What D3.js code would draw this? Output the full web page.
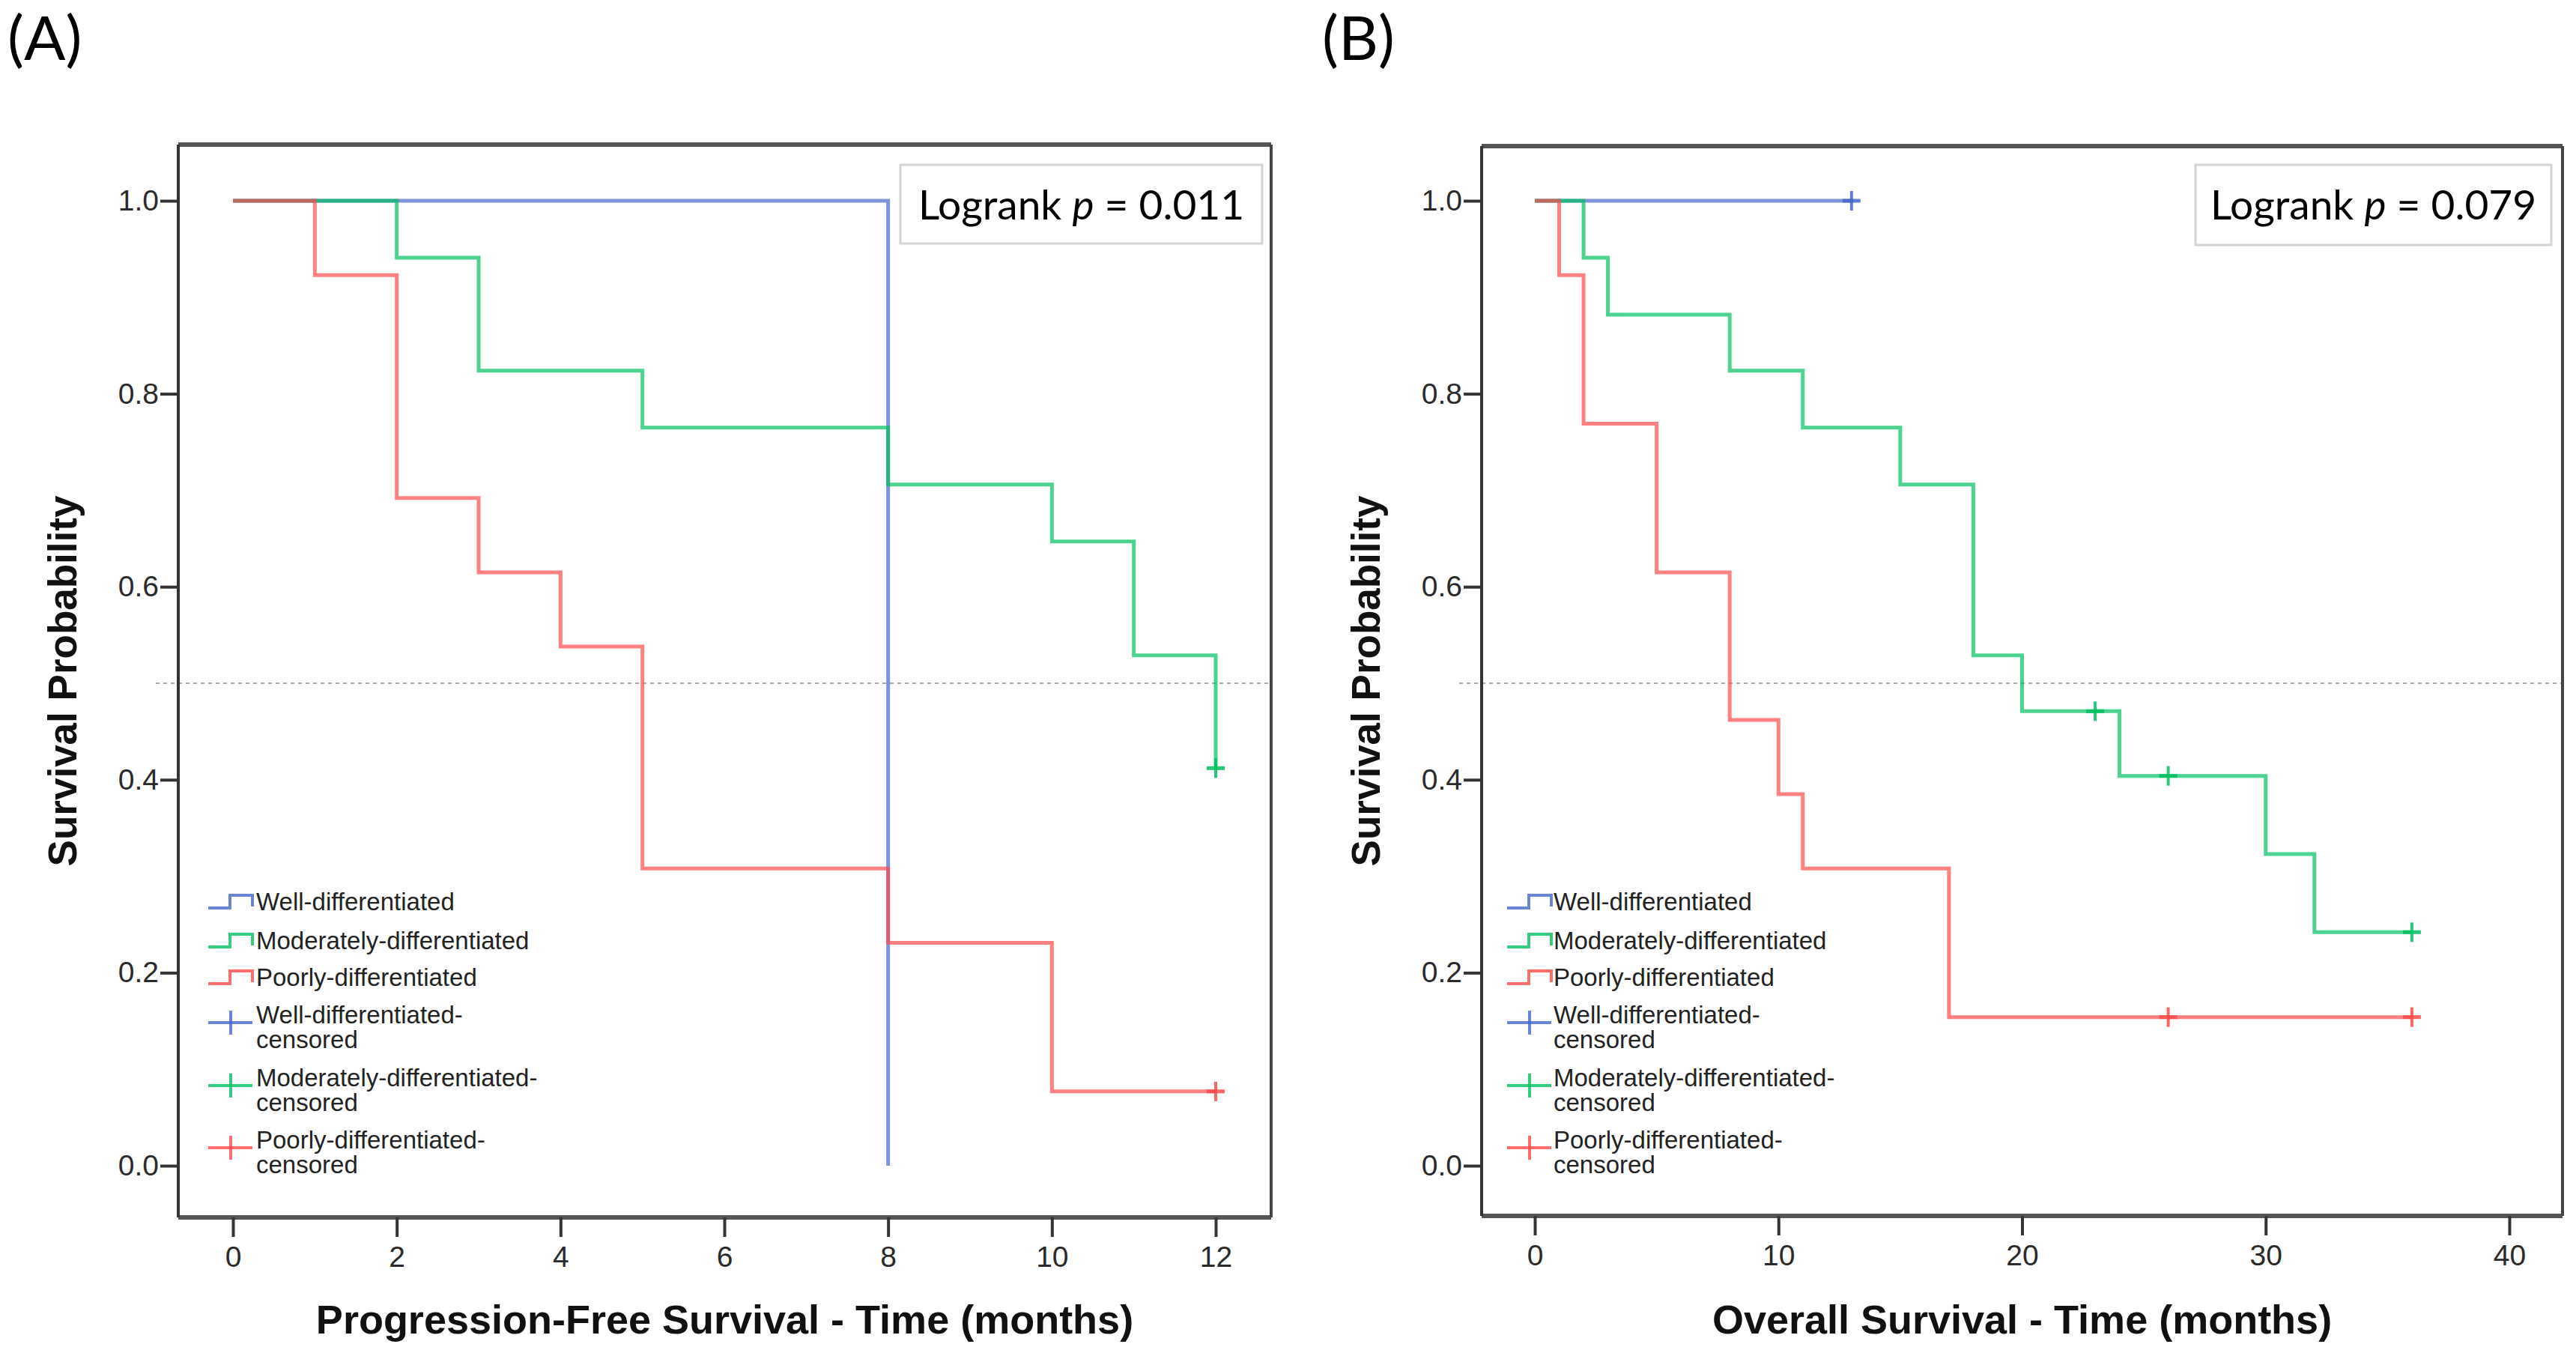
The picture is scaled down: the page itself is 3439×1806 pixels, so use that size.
<!DOCTYPE html>
<html>
<head>
<meta charset="utf-8">
<script src="https://cdn.jsdelivr.net/npm/d3@7"></script>
<style>
  html, body { margin: 0; padding: 0; background: #fff; }
  svg { display: block; }
</style>
</head>
<body>
<svg id="chart" width="3439" height="1806"></svg>
<script>
// ---------------- DATA ----------------
const groups = ["Well-differentiated", "Moderately-differentiated", "Poorly-differentiated"];
const censorLabels = ["Well-differentiated-", "Moderately-differentiated-", "Poorly-differentiated-"];
const groupColors = ["#4466cc", "#00c060", "#ff4a4a"];

const yTicks = [0.0, 0.2, 0.4, 0.6, 0.8, 1.0];

// Panel A: progression-free survival
const pfsXTicks = [0, 2, 4, 6, 8, 10, 12];
const pfsWellTimes = [8];
const pfsWellSurv = [0.0];
const pfsWellCensor = [];
const pfsWellEnd = 8;
const pfsModTimes = [2, 3, 5, 8, 10, 11, 12];
const pfsModSurv = [0.941, 0.824, 0.765, 0.706, 0.647, 0.529, 0.412];
const pfsModCensor = [12];
const pfsModEnd = 12;
const pfsPoorTimes = [1, 2, 3, 4, 5, 8, 10];
const pfsPoorSurv = [0.923, 0.692, 0.615, 0.538, 0.308, 0.231, 0.077];
const pfsPoorCensor = [12];
const pfsPoorEnd = 12;
const pfsPValue = "0.011";

// Panel B: overall survival
const osXTicks = [0, 10, 20, 30, 40];
const osWellTimes = [];
const osWellSurv = [];
const osWellCensor = [13];
const osWellEnd = 13;
const osModTimes = [2, 3, 8, 11, 15, 18, 20, 24, 30, 32];
const osModSurv = [0.941, 0.882, 0.824, 0.765, 0.706, 0.529, 0.471, 0.404, 0.323, 0.242];
const osModCensor = [23, 26, 36];
const osModEnd = 36;
const osPoorTimes = [1, 2, 5, 8, 10, 11, 17];
const osPoorSurv = [0.923, 0.769, 0.615, 0.462, 0.385, 0.308, 0.154];
const osPoorCensor = [26, 36];
const osPoorEnd = 36;
const osPValue = "0.079";

// ---------------- LAYOUT ----------------
const svg = d3.select("#chart");
const tickFont = "'Liberation Sans', Arial, sans-serif";
const calibriLike = "Lato, 'Open Sans', sans-serif";

const panels = [
  {
    tag: "(A)", tagX: 10,
    frame: {left: 238, right: 1697, top: 193, bottom: 1625},
    x0: 311, x1: 1623, xDomain: [0, 12], xTicks: pfsXTicks,
    xTitle: "Progression-Free Survival - Time (months)",
    p: pfsPValue, box: {x: 1202, y: 220, w: 483, h: 105},
    legendIcon: 40, legendText: 104,
    series: [
      {times: pfsWellTimes, surv: pfsWellSurv, censor: pfsWellCensor, end: pfsWellEnd},
      {times: pfsModTimes, surv: pfsModSurv, censor: pfsModCensor, end: pfsModEnd},
      {times: pfsPoorTimes, surv: pfsPoorSurv, censor: pfsPoorCensor, end: pfsPoorEnd}
    ]
  },
  {
    tag: "(B)", tagX: 1765,
    frame: {left: 1978, right: 3421, top: 195, bottom: 1623},
    x0: 2049, x1: 3350, xDomain: [0, 40], xTicks: osXTicks,
    xTitle: "Overall Survival - Time (months)",
    p: osPValue, box: {x: 2931, y: 220, w: 475, h: 107},
    legendIcon: 34, legendText: 96,
    series: [
      {times: osWellTimes, surv: osWellSurv, censor: osWellCensor, end: osWellEnd},
      {times: osModTimes, surv: osModSurv, censor: osModCensor, end: osModEnd},
      {times: osPoorTimes, surv: osPoorSurv, censor: osPoorCensor, end: osPoorEnd}
    ]
  }
];

const y = d3.scaleLinear().domain([0, 1]).range([1556, 268]);

panels.forEach(P => {
  const g = svg.append("g");
  const F = P.frame;
  const x = d3.scaleLinear().domain(P.xDomain).range([P.x0, P.x1]);

  // panel tag
  g.append("text").attr("x", P.tagX).attr("y", 80)
    .attr("font-family", calibriLike).attr("font-size", 82).attr("fill", "#000")
    .text(P.tag);

  // reference line at 0.5
  g.append("line")
    .attr("x1", F.left - 30).attr("x2", F.right)
    .attr("y1", y(0.5)).attr("y2", y(0.5))
    .attr("stroke", "#aaa").attr("stroke-width", 2).attr("stroke-dasharray", "5,5");

  // frame
  g.append("line").attr("x1", F.left).attr("x2", F.right).attr("y1", F.top).attr("y2", F.top)
    .attr("stroke", "#555").attr("stroke-width", 6);
  g.append("line").attr("x1", F.left).attr("x2", F.right).attr("y1", F.bottom).attr("y2", F.bottom)
    .attr("stroke", "#555").attr("stroke-width", 6);
  g.append("line").attr("x1", F.left).attr("x2", F.left).attr("y1", F.top).attr("y2", F.bottom)
    .attr("stroke", "#333").attr("stroke-width", 4);
  g.append("line").attr("x1", F.right).attr("x2", F.right).attr("y1", F.top).attr("y2", F.bottom)
    .attr("stroke", "#444").attr("stroke-width", 4);

  // axes
  const ya = g.append("g").attr("transform", `translate(${F.left},0)`)
    .call(d3.axisLeft(y).tickValues(yTicks).tickFormat(d3.format(".1f")).tickSize(24).tickPadding(2));
  const xa = g.append("g").attr("transform", `translate(0,${F.bottom})`)
    .call(d3.axisBottom(x).tickValues(P.xTicks).tickFormat(d3.format("d")).tickSize(26).tickPadding(12));
  [ya, xa].forEach(a => {
    a.select(".domain").remove();
    a.selectAll(".tick line").attr("stroke", "#333").attr("stroke-width", 4);
    a.selectAll(".tick text").attr("font-family", tickFont).attr("font-size", 39).attr("fill", "#2a2a2a");
  });

  // titles
  g.append("text")
    .attr("x", (F.left + F.right) / 2).attr("y", 1780)
    .attr("text-anchor", "middle").attr("font-family", tickFont)
    .attr("font-weight", "bold").attr("font-size", 54).attr("fill", "#111")
    .text(P.xTitle);
  g.append("text")
    .attr("transform", `translate(${F.left - 136},${(F.top + F.bottom) / 2}) rotate(-90)`)
    .attr("text-anchor", "middle").attr("font-family", tickFont)
    .attr("font-weight", "bold").attr("font-size", 53).attr("fill", "#111")
    .text("Survival Probability");

  // curves
  const line = d3.line().x(d => x(d[0])).y(d => y(d[1])).curve(d3.curveStepAfter);
  P.series.forEach((s, i) => {
    const pts = [[0, 1]];
    s.times.forEach((t, k) => pts.push([t, s.surv[k]]));
    const last = pts[pts.length - 1][1];
    if (s.end > pts[pts.length - 1][0]) pts.push([s.end, last]);
    g.append("path").attr("d", line(pts))
      .attr("fill", "none").attr("stroke", groupColors[i])
      .attr("stroke-width", 5).attr("stroke-opacity", 0.7)
      .attr("stroke-linejoin", "miter");
    // censor marks
    const survAt = t => {
      let v = 1;
      s.times.forEach((tt, k) => { if (tt <= t) v = s.surv[k]; });
      return v;
    };
    s.censor.forEach(c => {
      const cx = x(c), cy = y(survAt(c));
      g.append("line").attr("x1", cx).attr("x2", cx).attr("y1", cy - 13).attr("y2", cy + 13)
        .attr("stroke", groupColors[i]).attr("stroke-width", 4).attr("stroke-opacity", 0.85);
      g.append("line").attr("x1", cx - 12).attr("x2", cx + 12).attr("y1", cy).attr("y2", cy)
        .attr("stroke", groupColors[i]).attr("stroke-width", 5).attr("stroke-opacity", 0.85);
    });
  });

  // logrank box
  g.append("rect").attr("x", P.box.x).attr("y", P.box.y).attr("width", P.box.w).attr("height", P.box.h)
    .attr("fill", "#fff").attr("stroke", "#d4d4d4").attr("stroke-width", 3);
  const lt = g.append("text").attr("x", P.box.x + P.box.w / 2).attr("y", P.box.y + 73)
    .attr("text-anchor", "middle").attr("font-family", calibriLike).attr("font-size", 55).attr("fill", "#000");
  lt.append("tspan").text("Logrank ");
  lt.append("tspan").attr("font-style", "italic").text("p");
  lt.append("tspan").text(" = " + P.p);

  // legend
  const ix = F.left + P.legendIcon, tx = F.left + P.legendText;
  const lineRows = [1215, 1267, 1316];
  groups.forEach((name, i) => {
    const by = lineRows[i];
    g.append("path")
      .attr("d", `M${ix},${by - 3} H${ix + 29} V${by - 20} H${ix + 59} V${by - 5}`)
      .attr("fill", "none").attr("stroke", groupColors[i]).attr("stroke-width", 4).attr("stroke-opacity", 0.8);
    g.append("text").attr("x", tx).attr("y", by)
      .attr("font-family", tickFont).attr("font-size", 33).attr("fill", "#222").text(name);
  });
  const censRows = [1366, 1450, 1533];
  censorLabels.forEach((name, i) => {
    const by = censRows[i];
    const cy = by - 1;
    g.append("line").attr("x1", ix).attr("x2", ix + 59).attr("y1", cy).attr("y2", cy)
      .attr("stroke", groupColors[i]).attr("stroke-width", 4).attr("stroke-opacity", 0.8);
    g.append("line").attr("x1", ix + 30).attr("x2", ix + 30).attr("y1", cy - 16).attr("y2", cy + 16)
      .attr("stroke", groupColors[i]).attr("stroke-width", 4).attr("stroke-opacity", 0.8);
    const t = g.append("text").attr("font-family", tickFont).attr("font-size", 33).attr("fill", "#222");
    t.append("tspan").attr("x", tx).attr("y", by).text(name);
    t.append("tspan").attr("x", tx).attr("y", by + 33).text("censored");
  });
});
</script>
</body>
</html>
